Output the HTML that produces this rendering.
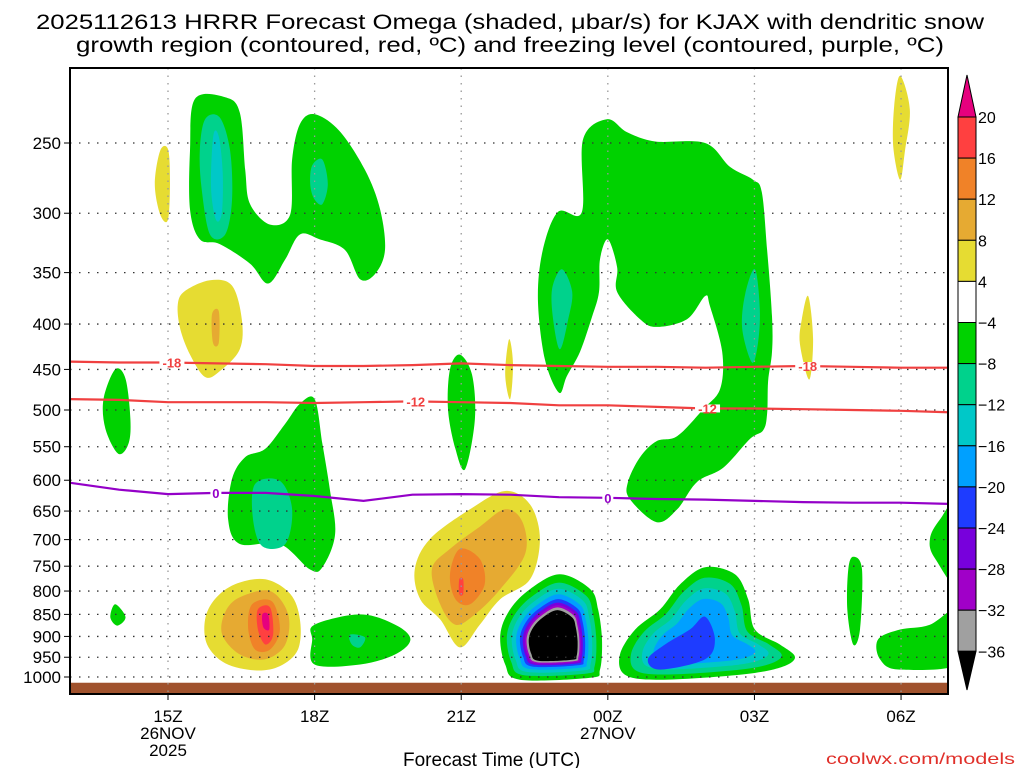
<!DOCTYPE html>
<html><head><meta charset="utf-8"><style>
html,body{margin:0;padding:0;background:#fff;}
svg{display:block;font-family:"Liberation Sans",sans-serif;}
</style></head><body>
<svg id="chart" width="1024" height="768" viewBox="0 0 1024 768">
<g id="title">
<text x="510" y="29" text-anchor="middle" font-size="21" textLength="948" lengthAdjust="spacingAndGlyphs">2025112613 HRRR Forecast Omega (shaded, μbar/s) for KJAX with dendritic snow</text>
<text x="510" y="52" text-anchor="middle" font-size="21" textLength="868" lengthAdjust="spacingAndGlyphs">growth region (contoured, red, ºC) and freezing level (contoured, purple, ºC)</text>
</g>
<g id="fills"></g>
<g id="grid"></g>
<g id="lines"></g>
<g id="axes"></g>
<g id="cbar"></g>
<text x="403" y="766" font-size="19">Forecast Time (UTC)</text>
<text x="826" y="764" font-size="16" fill="#e0302a" textLength="189" lengthAdjust="spacingAndGlyphs">coolwx.com/models</text>
</svg>
<script>
// ---- data ----
const pressureTicks=[250,300,350,400,450,500,550,600,650,700,750,800,850,900,950,1000];
const timeTicksHour=[15,18,21,24,27,30];
const timeTickLabels=["15Z","18Z","21Z","00Z","03Z","06Z"];
const lineHours=[13,14,15,16,17,18,19,20,21,22,23,24,25,26,27,28,29,30,31];
const minus18Line=[441,442,442,443,444,446,446,445,443,445,446,447,447,448,447,446,447,448,448];
const minus12Line=[486,487,490,490,490,491,490,489,490,491,494,494,496,498,498,499,500,501,503];
const freezingLine=[604,615,622,620,620,625,633,623,622,623,627,628,630,631,633,635,636,636,638];
const cbarLabels=["20","16","12","8","4","−4","−8","−12","−16","−20","−24","−28","−32","−36"];
const cbarColors=["#ff4040","#f08228","#e6aa32","#e6dc32","#ffffff","#00d200","#00d28c","#00c8c8","#00a0ff","#1e3cff","#7800dc","#a000c8","#a0a0a0"];
const blobGreenU=[[15.55,223],[16.17,222],[16.47,231],[16.58,268],[16.68,293],[17.09,309],[17.5,301],[17.54,261],[17.7,238],[18.0,232],[18.5,242],[19.03,268],[19.34,297],[19.44,330],[19.24,351],[18.93,356],[18.62,330],[18.1,321],[17.7,317],[17.4,338],[17.05,360],[16.68,342],[16.06,325],[15.65,321],[15.45,297],[15.45,255]];
const blobTealU=[[15.76,235],[16.06,234],[16.27,255],[16.31,290],[16.17,317],[15.86,317],[15.69,282],[15.65,255]];
const blobCyanU=[[15.93,245],[16.04,246],[16.12,270],[16.1,300],[15.98,305],[15.88,280]];
const blobTealU2=[[17.95,265],[18.16,261],[18.27,278],[18.16,293],[17.99,289],[17.91,278]];
const blobYellowA=[[14.84,255],[15.0,254],[15.04,275],[15.0,305],[14.84,301],[14.73,278]];
const blobYellowB=[[15.35,367],[15.86,357],[16.31,362],[16.51,395],[16.47,427],[16.06,452],[15.76,459],[15.45,433],[15.25,405],[15.2,380]];
const blobOrangeB=[[15.9,390],[16.04,387],[16.04,420],[15.92,420]];
const blobGreenD=[[13.92,450],[14.13,461],[14.23,512],[14.19,546],[13.98,560],[13.72,525],[13.68,486]];
const blobGreenE=[[18.0,486],[17.7,492],[17.4,518],[16.99,553],[16.58,565],[16.31,598],[16.23,664],[16.47,708],[17.29,708],[17.9,756],[18.16,752],[18.42,690],[18.31,614],[18.16,546]];
const blobTealE=[[16.78,606],[17.29,601],[17.54,647],[17.4,708],[16.93,712],[16.74,664]];
const blobGreenF=[[13.92,828],[14.13,856],[13.96,875],[13.82,856]];
const blobYellowG=[[16.37,786],[16.99,776],[17.5,806],[17.7,861],[17.66,931],[17.29,972],[16.78,983],[16.17,965],[15.8,919],[15.76,861],[15.96,817]];
const blobOrangeG=[[16.47,813],[17.09,800],[17.46,850],[17.4,919],[16.99,955],[16.47,943],[16.11,896],[16.17,845]];
const blobDkOrangeG=[[16.72,828],[17.13,822],[17.29,884],[17.09,931],[16.78,931],[16.64,880]];
const blobRedG=[[16.84,839],[17.09,835],[17.15,896],[16.99,919],[16.84,884]];
const blobPinkG=[[16.93,850],[17.05,850],[17.07,884],[16.95,879]];
const blobGreenH=[[18.0,873],[18.93,850],[19.65,873],[19.96,907],[19.65,943],[18.93,968],[18.0,968],[17.95,907]];
const blobTealH=[[18.72,896],[19.03,902],[18.93,926],[18.76,919]];
const blobGreenI=[[20.97,433],[21.22,456],[21.28,512],[21.08,583],[20.88,553],[20.73,499],[20.77,450]];
const blobYellowJ=[[21.98,416],[22.06,444],[22.0,486],[21.9,456]];
const blobYellowK=[[21.9,617],[22.41,639],[22.61,699],[22.41,776],[21.8,817],[21.38,873],[20.97,926],[20.57,861],[20.16,817],[20.05,756],[20.36,699],[21.18,647]];
const blobOrangeK=[[21.9,647],[22.25,668],[22.31,726],[21.8,796],[21.28,850],[20.88,873],[20.57,828],[20.4,756],[20.77,717],[21.38,677]];
const blobDkOrangeK=[[20.97,717],[21.38,736],[21.48,786],[21.18,828],[20.88,817],[20.77,766]];
const blobRedK=[[20.96,776],[21.04,776],[21.04,806],[20.96,806]];
const blobGreenL=[[23.98,235],[24.39,243],[24.97,249],[25.99,250],[26.5,266],[26.97,275],[27.15,284],[27.26,330],[27.36,392],[27.36,430],[27.28,464],[27.26,505],[27.18,527],[26.91,539],[26.36,581],[25.82,603],[25.42,647],[25.0,669],[24.45,630],[24.41,603],[24.66,565],[25.0,542],[25.42,535],[25.95,499],[26.3,473],[26.34,430],[26.09,382],[25.99,372],[25.62,395],[25.0,403],[24.66,395],[24.19,368],[24.19,345],[24.0,321],[23.84,338],[23.82,368],[23.68,392],[23.43,430],[23.16,458],[23.0,478],[22.71,438],[22.57,375],[22.67,330],[22.98,299],[23.47,299],[23.49,248]];
const blobTealL1=[[23.06,347],[23.27,368],[23.19,395],[23.02,427],[22.88,395],[22.86,365]];
const blobTealL2=[[27.01,347],[27.11,385],[27.07,421],[26.95,442],[26.75,405],[26.81,370]];
const blobYellowM=[[28.1,372],[28.2,416],[28.12,462],[27.93,421],[27.97,395]];
const blobYellowN=[[29.98,210],[30.18,229],[30.08,255],[29.98,275],[29.84,252],[29.86,227]];
const blobCore1=[[23.02,766],[23.64,796],[23.8,839],[23.88,907],[23.84,981],[23.64,1002],[22.2,1007],[21.9,968],[21.8,896],[22.0,839],[22.41,796]];
const core1Center=[22.92,916];
const core1Scales=[1,0.88,0.79,0.71,0.64,0.59,0.55,0.52,0.48];
const core1Colors=["#00d200","#00d28c","#00c8c8","#00a0ff","#1e3cff","#7800dc","#a000c8","#a0a0a0","#000000"];
const blobCore2=[[25.99,752],[26.6,766],[26.87,817],[27.01,884],[27.52,919],[27.83,950],[27.52,976],[26.7,994],[25.07,1007],[24.35,994],[24.25,943],[24.56,884],[25.07,839],[25.48,786]];
const core2Center=[25.9,915];
const core2Scales=[1,0.86,0.72,0.58];
const core2Colors=["#00d200","#00d28c","#00c8c8","#00a0ff"];
const blobBlue2=[[25.99,855],[26.19,907],[25.99,955],[25.07,981],[24.82,955],[25.17,919],[25.68,884]];
const blobGreenO=[[29.02,732],[29.2,756],[29.16,884],[29.02,919],[28.9,839],[28.92,756]];
const blobGreenP=[[31.3,620],[31.3,800],[30.7,736],[30.59,699],[30.8,664]];
const blobGreenQ=[[31.3,830],[31.3,960],[29.98,981],[29.57,955],[29.53,907],[29.98,884],[30.59,873]];
// ---- axes ----
const X0=70,X1=948,Y0=68,Y1=694;
function xS(h){return 168+(h-15)*48.87;}
function yS(p){return 143+385.2*Math.log(p/250);}
const NS="http://www.w3.org/2000/svg";
function mk(tag,attrs,parent){const e=document.createElementNS(NS,tag);for(const k in attrs)e.setAttribute(k,attrs[k]);parent.appendChild(e);return e;}
function smoothPath(pts){const n=pts.length;let d=`M${pts[0][0].toFixed(1)},${pts[0][1].toFixed(1)}`;
for(let i=0;i<n;i++){const p0=pts[(i-1+n)%n],p1=pts[i],p2=pts[(i+1)%n],p3=pts[(i+2)%n];
const c1=[p1[0]+(p2[0]-p0[0])/6,p1[1]+(p2[1]-p0[1])/6],c2=[p2[0]-(p3[0]-p1[0])/6,p2[1]-(p3[1]-p1[1])/6];
d+=`C${c1[0].toFixed(1)},${c1[1].toFixed(1)} ${c2[0].toFixed(1)},${c2[1].toFixed(1)} ${p2[0].toFixed(1)},${p2[1].toFixed(1)}`;}
return d+"Z";}
const fills=document.getElementById('fills');
mk('rect',{x:X0,y:Y0,width:X1-X0,height:Y1-Y0,fill:'#fff'},fills);
const clip=mk('clipPath',{id:'pc'},mk('defs',{},fills));mk('rect',{x:X0,y:Y0,width:X1-X0,height:Y1-Y0},clip);
const fg=mk('g',{'clip-path':'url(#pc)'},fills);
function blob(data,color,name,scale,center){let pts=data.map(d=>[xS(d[0]),yS(d[1])]);
if(scale!==undefined){const c=[xS(center[0]),yS(center[1])];pts=pts.map(p=>[c[0]+(p[0]-c[0])*scale,c[1]+(p[1]-c[1])*scale]);}
const e=mk('path',{d:smoothPath(pts),fill:color},fg);

}
const G="#00d200",T="#00d28c",C="#00c8c8",Y="#e6dc32",O="#e6aa32",DO="#f08228",R="#ff4040",PK="#e6007e";
blob(blobGreenU,G,'omega-region');blob(blobTealU,T,'omega-region');blob(blobCyanU,C,'omega-region');blob(blobTealU2,T,'omega-region');
blob(blobYellowA,Y,'omega-region');blob(blobYellowB,Y,'omega-region');blob(blobOrangeB,O,'omega-region');
blob(blobGreenD,G,'omega-region');blob(blobGreenE,G,'omega-region');blob(blobTealE,T,'omega-region');blob(blobGreenF,G,'omega-region');
blob(blobYellowG,Y,'omega-region');blob(blobOrangeG,O,'omega-region');blob(blobDkOrangeG,DO,'omega-region');blob(blobRedG,R,'omega-region');blob(blobPinkG,PK,'omega-region');
blob(blobGreenH,G,'omega-region');blob(blobTealH,T,'omega-region');blob(blobGreenI,G,'omega-region');blob(blobYellowJ,Y,'omega-region');
blob(blobYellowK,Y,'omega-region');blob(blobOrangeK,O,'omega-region');blob(blobDkOrangeK,DO,'omega-region');blob(blobRedK,R,'omega-region');
blob(blobGreenL,G,'omega-region');blob(blobTealL1,T,'omega-region');blob(blobTealL2,T,'omega-region');blob(blobYellowM,Y,'omega-region');blob(blobYellowN,Y,'omega-region');
core1Scales.forEach((s,i)=>blob(blobCore1,core1Colors[i],'omega-core-layer',s,core1Center));
core2Scales.forEach((s,i)=>blob(blobCore2,core2Colors[i],'omega-core-layer',s,core2Center));
blob(blobBlue2,"#1e3cff",'omega-region');
blob(blobGreenO,G,'omega-region');blob(blobGreenP,G,'omega-region');blob(blobGreenQ,G,'omega-region');
const ground=mk('rect',{x:X0,y:yS(1015),width:X1-X0,height:Y1-yS(1015),fill:'#a0522d'},fg);


const grid=document.getElementById('grid');
pressureTicks.forEach(p=>{const l=mk('line',{x1:X0,x2:X1,y1:yS(p),y2:yS(p),stroke:'#333','stroke-width':1.3,'stroke-dasharray':'1.5 7.5'},grid);

});
timeTicksHour.forEach(h=>{const l=mk('line',{x1:xS(h),x2:xS(h),y1:Y0,y2:Y1,stroke:'#999','stroke-width':1.3,'stroke-dasharray':'1.5 6'},grid);

});
const lines=document.getElementById('lines');
function contour(vals,color,name,labels,txt){const d=vals.map((v,i)=>(i?'L':'M')+xS(lineHours[i]).toFixed(1)+','+yS(v).toFixed(1)).join('');
const pg=mk('g',{'clip-path':'url(#pc)'},lines);
const e=mk('path',{d:d,fill:'none',stroke:color,'stroke-width':2.2},pg);


labels.forEach(h=>{const i=Math.floor(h-13),f=h-13-i;const v=vals[i]+(vals[i+1]-vals[i])*f;
const w=txt.length*7+4;
mk('rect',{x:xS(h)-w/2,y:yS(v)-4,width:w,height:8,fill:'#fff'},pg);
const t=mk('text',{x:xS(h),y:yS(v)+5,'text-anchor':'middle','font-size':13,'font-weight':'bold',fill:color},pg);t.textContent=txt;

});}
contour(minus18Line,'#f04040','contour-minus18',[15.08,28.09],'-18');
contour(minus12Line,'#f04040','contour-minus12',[20.07,26.04],'-12');
contour(freezingLine,'#9400c8','freezing-level',[15.98,24.0],'0');
const ax=document.getElementById('axes');
const fr=mk('rect',{x:X0,y:Y0,width:X1-X0,height:Y1-Y0,fill:'none',stroke:'#000','stroke-width':2},ax);


pressureTicks.forEach(p=>{mk('line',{x1:X0-6,x2:X0,y1:yS(p),y2:yS(p),stroke:'#000'},ax);
const t=mk('text',{x:61,y:yS(p)+6,'text-anchor':'end','font-size':17},ax);t.textContent=p;

});
timeTicksHour.forEach((h,i)=>{mk('line',{x1:xS(h),x2:xS(h),y1:Y1,y2:Y1+6,stroke:'#000'},ax);
const t=mk('text',{x:xS(h),y:722,'text-anchor':'middle','font-size':17},ax);t.textContent=timeTickLabels[i];

});
[["26NOV",15,739],["2025",15,756],["27NOV",24,739]].forEach(a=>{const t=mk('text',{x:xS(a[1]),y:a[2],'text-anchor':'middle','font-size':17},ax);t.textContent=a[0];

});
const cb=document.getElementById('cbar');
const cx=958,cw=18,ct=117,bh=41.1;
const tri=mk('polygon',{points:`${cx},${ct} ${cx+cw/2},75 ${cx+cw},${ct}`,fill:PK,stroke:'#000'},cb);


cbarColors.forEach((c,i)=>{const r=mk('rect',{x:cx,y:ct+i*bh,width:cw,height:bh,fill:c,stroke:'#000','stroke-width':1},cb);

});
const bot=ct+cbarColors.length*bh;
const tri2=mk('polygon',{points:`${cx},${bot} ${cx+cw/2},690 ${cx+cw},${bot}`,fill:'#000',stroke:'#000'},cb);


cbarLabels.forEach((l,i)=>{const t=mk('text',{x:978,y:ct+i*bh+6,'font-size':16},cb);t.textContent=l;

});
</script>
</body></html>
